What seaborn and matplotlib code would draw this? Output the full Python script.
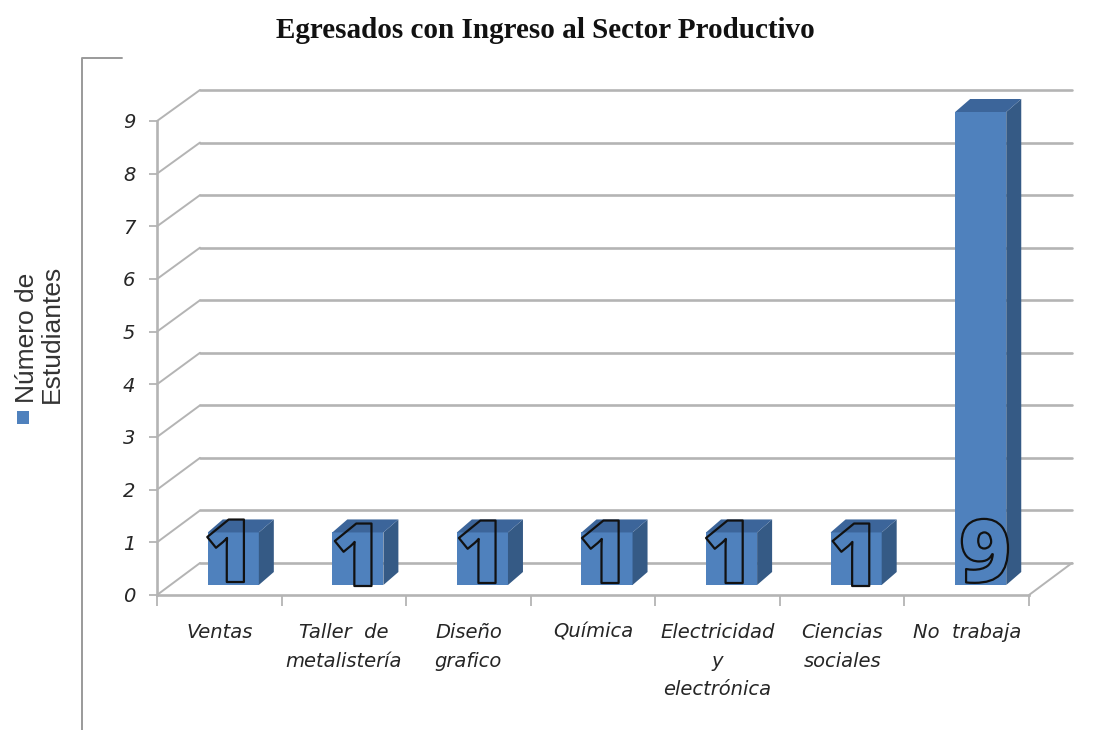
import numpy as np
import matplotlib
matplotlib.use("Agg")
import matplotlib.pyplot as plt
import matplotlib.patheffects as pe
from matplotlib.lines import Line2D
from matplotlib.patches import ConnectionPatch, Polygon, Rectangle
from matplotlib.transforms import IdentityTransform
import seaborn as sns

categories = ["Ventas", "Taller  de\nmetalistería", "Diseño\ngrafico", "Química",
              "Electricidad\ny\nelectrónica", "Ciencias\nsociales", "No  trabaja"]
values = [1, 1, 1, 1, 1, 1, 9]
value_ticks = list(range(0, 10))
title = "Egresados con Ingreso al Sector Productivo"
series_name = "Número de\nEstudiantes"

W, H = 1107, 730
GRID = "#b4b4b4"
FACE = "#4f81bd"
SIDE = "#355a85"
TOP = "#3c659a"
TEXT = "#262626"

sns.set_style("white")
fig = plt.figure(figsize=(W / 100, H / 100), dpi=100, facecolor="white")


def box(x0, x1, ytop, ybottom):
    return [x0 / W, 1 - ybottom / H, (x1 - x0) / W, (ybottom - ytop) / H]


n = len(categories)
xlim = (-0.5, n - 0.5)
ylim = (0, 9)

# back wall with gridlines
back = fig.add_axes(box(200, 1072, 90, 563), zorder=1)
back.set_xlim(xlim)
back.set_ylim(ylim)
back.set_yticks(value_ticks)
back.set_xticks([])
back.tick_params(left=False, labelleft=False)
back.grid(axis="y", color=GRID, lw=1.9)
for gl in back.get_ygridlines():
    gl.set_clip_on(False)
back.set_axisbelow(True)
sns.despine(ax=back, left=True, bottom=True)

# front plane with axes, ticks and labels
front = fig.add_axes(box(157, 1029, 121, 595), zorder=2)
front.patch.set_alpha(0)
front.set_xlim(xlim)
front.set_ylim(ylim)
front.set_yticks(value_ticks)
front.set_yticklabels([str(v) for v in value_ticks], fontstyle="italic",
                      fontsize=14, color=TEXT)
front.set_xticks(np.arange(n + 1) - 0.5)
front.set_xticklabels([])
front.set_xticks(np.arange(n), minor=True)
front.set_xticklabels(categories, minor=True, fontstyle="italic", fontsize=14,
                      color=TEXT, linespacing=1.65, va="top")
front.tick_params(axis="y", left=True, length=5.5, width=1.3, color=GRID, pad=10)
front.tick_params(axis="x", which="major", bottom=True, length=8, width=1.3, color=GRID)
front.tick_params(axis="x", which="minor", bottom=False, length=0, pad=20)
sns.despine(ax=front)
for side in ("left", "bottom"):
    front.spines[side].set_color(GRID)
    front.spines[side].set_linewidth(1.9)

# side-wall connectors between the front plane and the back wall
for v in value_ticks:
    fig.add_artist(ConnectionPatch(xyA=(xlim[0], v), coordsA=front.transData,
                                   xyB=(xlim[0], v), coordsB=back.transData,
                                   color=GRID, lw=1.4, zorder=1.5))
fig.add_artist(ConnectionPatch(xyA=(xlim[1], 0), coordsA=front.transData,
                               xyB=(xlim[1], 0), coordsB=back.transData,
                               color=GRID, lw=1.4, zorder=1.5))

# bars, sitting midway along the depth of the floor
bars = fig.add_axes(box(171, 1043, 112, 585), zorder=3)
bars.patch.set_alpha(0)
sns.barplot(x=list(range(n)), y=values, ax=bars, color=FACE, saturation=1,
            width=0.41, linewidth=0, edgecolor="none")
bars.set_xlim(xlim)
bars.set_ylim(ylim)
bars.axis("off")

DX, DY = 15, 13
label_dx = [-4, -1, -1.5, -3, -3.5, -1.5, 4.5]
label_dy = [3, -1, 2, 2, 2, -1, 3]
for patch, v, ldx, ldy in zip(list(bars.patches), values, label_dx, label_dy):
    x0, x1 = patch.get_x(), patch.get_x() + patch.get_width()
    (px0, p0), (px1, ptop) = bars.transData.transform([(x0, 0), (x1, v)])
    bars.add_patch(Polygon([(px1, p0), (px1 + DX, p0 + DY), (px1 + DX, ptop + DY), (px1, ptop)],
                           closed=True, fc=SIDE, ec="none",
                           transform=IdentityTransform(), clip_on=False, zorder=2))
    bars.add_patch(Polygon([(px0, ptop), (px0 + DX, ptop + DY), (px1 + DX, ptop + DY), (px1, ptop)],
                           closed=True, fc=TOP, ec="none",
                           transform=IdentityTransform(), clip_on=False, zorder=2))
    bars.annotate(str(v), xy=((x0 + x1) / 2, 0), xytext=(ldx, ldy), textcoords="offset pixels",
                  ha="center", va="baseline", fontsize=63, fontweight=800,
                  family="Open Sans", color="none", zorder=4, annotation_clip=False,
                  path_effects=[pe.Stroke(linewidth=1.6, foreground="#111111")])

# title
fig.text(545 / W, 1 - 30 / H, title, ha="center", va="center", fontsize=21,
         fontweight="bold", family="Liberation Serif", color="#111111")

# frame fragment
fig.add_artist(Line2D([122 / W, 81.5 / W, 81.5 / W], [1 - 58 / H, 1 - 58 / H, 0],
                      color="#9a9a9a", lw=1.4))

# rotated legend
fig.add_artist(Rectangle((17 / W, 1 - 424 / H), 12 / W, 13 / H, fc=FACE, ec="none",
                         transform=fig.transFigure))
fig.text(39.5 / W, 1 - 403 / H, series_name, rotation=90, ha="center", va="bottom",
         multialignment="left", fontsize=19, family="Liberation Sans",
         color="#333333", linespacing=1.05)

fig.savefig("out.png", dpi=100, facecolor="white")
